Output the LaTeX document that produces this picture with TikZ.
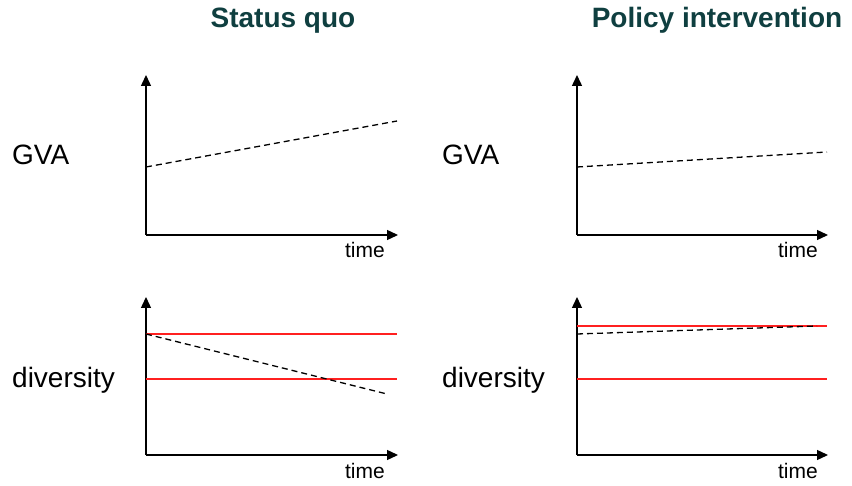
\documentclass[tikz,border=0pt]{standalone}
\usepackage{fontspec}
\setmainfont{Liberation Sans}
\usetikzlibrary{arrows.meta}
\definecolor{titlecol}{HTML}{0F3F40}
\definecolor{redline}{HTML}{FF2020}
\tikzset{
  axis/.style={line width=1.4pt,-{Triangle[length=11pt,width=10pt]}},
  trend/.style={line width=1.3pt,dash pattern=on 6pt off 4pt},
  level/.style={redline,line width=1.3pt},
  title/.style={font=\fontsize{28}{32}\selectfont\bfseries,text=titlecol,anchor=base,inner sep=0pt},
  ylab/.style={font=\fontsize{28}{32}\selectfont,anchor=base west,inner sep=0pt},
  tlab/.style={font=\fontsize{21}{24}\selectfont,anchor=base east,inner sep=0pt}
}
\begin{document}
\begin{tikzpicture}[x=1pt,y=-1pt]
\useasboundingbox (0,0) rectangle (852,486);
% titles
\node[title] (t1) at (283,28) {Status quo};
\node[title] (t2) at (717,28) {Policy intervention};
% axis coordinates
\coordinate (o1) at (146,235); \coordinate (y1) at (146,75);  \coordinate (x1) at (398,235);
\coordinate (o2) at (577,235); \coordinate (y2) at (577,75);  \coordinate (x2) at (828,235);
\coordinate (o3) at (146,455); \coordinate (y3) at (146,297); \coordinate (x3) at (398,455);
\coordinate (o4) at (577,455); \coordinate (y4) at (577,297); \coordinate (x4) at (828,455);
% axes
\draw[axis] (o1) -- (y1); \draw[axis] (o1) -- (x1);
\draw[axis] (o2) -- (y2); \draw[axis] (o2) -- (x2);
\draw[axis] (o3) -- (y3); \draw[axis] (o3) -- (x3);
\draw[axis] (o4) -- (y4); \draw[axis] (o4) -- (x4);
% labels
\node[ylab] (g1) at (12,165) {GVA};
\node[ylab] (g2) at (442,165) {GVA};
\node[ylab] (d1) at (12,388) {diversity};
\node[ylab] (d2) at (442,388) {diversity};
\node[tlab] (tm1) at (385,258) {time};
\node[tlab] (tm2) at (818,258) {time};
\node[tlab] (tm3) at (385,478) {time};
\node[tlab] (tm4) at (818,478) {time};
% red reference levels
\coordinate (r1a) at (146,334); \coordinate (r1b) at (397,334);
\coordinate (r2a) at (146,379); \coordinate (r2b) at (397,379);
\coordinate (r3a) at (577,326); \coordinate (r3b) at (827,326);
\coordinate (r4a) at (577,379); \coordinate (r4b) at (827,379);
\draw[level] (r1a) -- (r1b);
\draw[level] (r2a) -- (r2b);
\draw[level] (r3a) -- (r3b);
\draw[level] (r4a) -- (r4b);
% dashed trends
\coordinate (a1) at (146,167); \coordinate (b1) at (397,121);
\coordinate (a2) at (577,167); \coordinate (b2) at (827,152);
\coordinate (a3) at (146,334); \coordinate (b3) at (387,394);
\coordinate (a4) at (577,334); \coordinate (b4) at (817,326);
\draw[trend] (a1) -- (b1);
\draw[trend] (a2) -- (b2);
\draw[trend] (a3) -- (b3);
\draw[trend] (a4) -- (b4);
\end{tikzpicture}
\end{document}
